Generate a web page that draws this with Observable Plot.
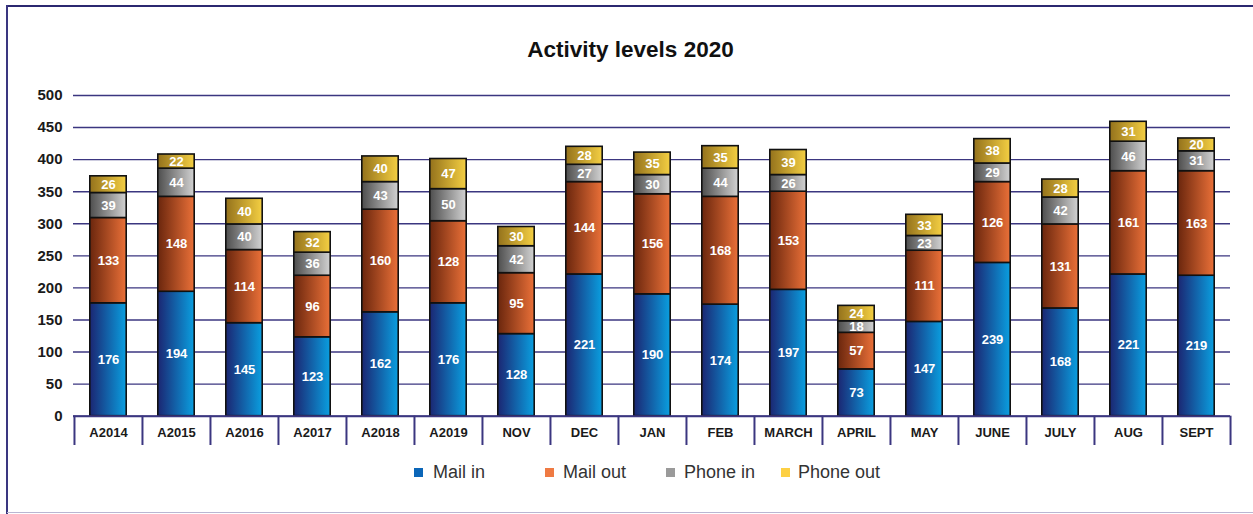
<!DOCTYPE html>
<html>
<head>
<meta charset="utf-8">
<script src="https://cdn.jsdelivr.net/npm/d3@7"></script>
<script src="https://cdn.jsdelivr.net/npm/@observablehq/plot@0.6"></script>
<style>
  html, body { margin: 0; padding: 0; background: #fff; }
  #wrap { position: relative; width: 1253px; height: 514px; overflow: hidden; font-family: "Liberation Sans", Arial, sans-serif; }
  .bt { position: absolute; left: 7px; right: 0; top: 5px; height: 2px; background: #2b2870; }
  .bl { position: absolute; left: 6px; width: 2px; top: 5px; bottom: 0; background: #3a3680; }
  .bb { position: absolute; left: 7px; right: 0; top: 512px; height: 1px; background: #b9b6d2; }
  #title { position: absolute; left: 0; width: 1261px; top: 37px; text-align: center; font-size: 22.5px; font-weight: bold; color: #111; }
  #chart { position: absolute; left: 0; top: 0; }
  .leg { position: absolute; top: 462px; font-size: 18px; color: #333; line-height: 20px; }
  .leg span.sw { position: absolute; left: 0; top: 6px; width: 9px; height: 9px; }
  .leg span.tx { position: absolute; white-space: nowrap; }
</style>
</head>
<body>
<div id="wrap">
  <div class="bt"></div><div class="bl"></div><div class="bb"></div>
  <div id="title">Activity levels 2020</div>
  <div id="chart"></div>
  <div id="legend"></div>
</div>
<script>
const categories = ["A2014","A2015","A2016","A2017","A2018","A2019","NOV","DEC","JAN","FEB","MARCH","APRIL","MAY","JUNE","JULY","AUG","SEPT"];
const seriesNames = ["Mail in","Mail out","Phone in","Phone out"];
const mailIn   = [176,194,145,123,162,176,128,221,190,174,197,73,147,239,168,221,219];
const mailOut  = [133,148,114,96,160,128,95,144,156,168,153,57,111,126,131,161,163];
const phoneIn  = [39,44,40,36,43,50,42,27,30,44,26,18,23,29,42,46,31];
const phoneOut = [26,22,40,32,40,47,30,28,35,35,39,24,33,38,28,31,20];
const yTicks = [0,50,100,150,200,250,300,350,400,450,500];

const seriesValues = [mailIn, mailOut, phoneIn, phoneOut];
const gradients = [
  ["#1b2672", "#0a9fe0"],
  ["#6a260d", "#ea7038"],
  ["#4e4e4e", "#d2d2d2"],
  ["#94721c", "#f4cf42"]
];
const legendColors = ["#0b66b8", "#ef7a43", "#9a9a9a", "#fdd044"];

// stacked rows
const rows = [];
categories.forEach((c, i) => {
  let acc = 0;
  seriesValues.forEach((vals, k) => {
    const v = vals[i];
    rows.push({cat: c, series: seriesNames[k], k, value: v, y1: acc, y2: acc + v});
    acc += v;
  });
});

const W = 1253, H = 514, ML = 73, MR = 23, MT = 95, MB = 69;
const step = (W - ML - MR) / categories.length;
const inset = 15.8;
const navy = "#3b3680";
const yBottom = -45.7;

const marks = [
  Plot.ruleY(yTicks, {stroke: navy, strokeWidth: 1.4}),
  Plot.axisY({ticks: yTicks, tickSize: 0, tickPadding: 11, fontSize: 15, fontWeight: "bold", fill: "#1a1a1a", label: null}),
];
seriesNames.forEach((s, k) => {
  marks.push(Plot.barY(rows.filter(r => r.k === k), {
    x: "cat", y1: "y1", y2: "y2",
    fill: `url(#grad${k})`, stroke: "#111", strokeWidth: 1.6,
    insetLeft: inset, insetRight: inset
  }));
});
marks.push(
  Plot.text(rows, {x: "cat", y: d => (d.y1 + d.y2) / 2, text: d => String(d.value),
    fill: "white", fontSize: 13, fontWeight: "bold"}),
  Plot.ruleX(categories, {x: d => d, dx: -step / 2, y1: yBottom, y2: 0, stroke: navy, strokeWidth: 2}),
  Plot.ruleX(categories.slice(-1), {x: d => d, dx: step / 2, y1: yBottom, y2: 0, stroke: navy, strokeWidth: 2}),
  Plot.ruleY([0], {stroke: navy, strokeWidth: 2}),
  Plot.text(categories, {x: d => d, y: -25.5, text: d => d, fontSize: 13, fontWeight: "bold", fill: "#1a1a1a"})
);

const svg = Plot.plot({
  width: W, height: H,
  marginLeft: ML, marginRight: MR, marginTop: MT, marginBottom: MB,
  style: {fontFamily: '"Liberation Sans", Arial, sans-serif', background: "transparent", overflow: "visible"},
  x: {domain: categories, padding: 0, axis: null},
  y: {domain: [yBottom, 500], axis: null},
  marks
});

const ns = "http://www.w3.org/2000/svg";
const defs = document.createElementNS(ns, "defs");
gradients.forEach((g, k) => {
  const lg = document.createElementNS(ns, "linearGradient");
  lg.setAttribute("id", "grad" + k);
  lg.setAttribute("x1", "0"); lg.setAttribute("x2", "1");
  lg.setAttribute("y1", "0"); lg.setAttribute("y2", "0");
  [[0, g[0]], [1, g[1]]].forEach(([o, c]) => {
    const st = document.createElementNS(ns, "stop");
    st.setAttribute("offset", o);
    st.setAttribute("stop-color", c);
    lg.appendChild(st);
  });
  defs.appendChild(lg);
});
svg.insertBefore(defs, svg.firstChild);
document.getElementById("chart").appendChild(svg);

// legend
const legendX = [414, 545, 666, 781];
const legendTextX = [433, 563, 684, 798];
const legend = document.getElementById("legend");
seriesNames.forEach((s, k) => {
  const item = document.createElement("div");
  item.className = "leg";
  item.style.left = legendX[k] + "px";
  const sw = document.createElement("span");
  sw.className = "sw";
  sw.style.background = legendColors[k];
  const tx = document.createElement("span");
  tx.className = "tx";
  tx.style.left = (legendTextX[k] - legendX[k]) + "px";
  tx.textContent = s;
  item.appendChild(sw); item.appendChild(tx);
  legend.appendChild(item);
});
</script>
</body>
</html>
